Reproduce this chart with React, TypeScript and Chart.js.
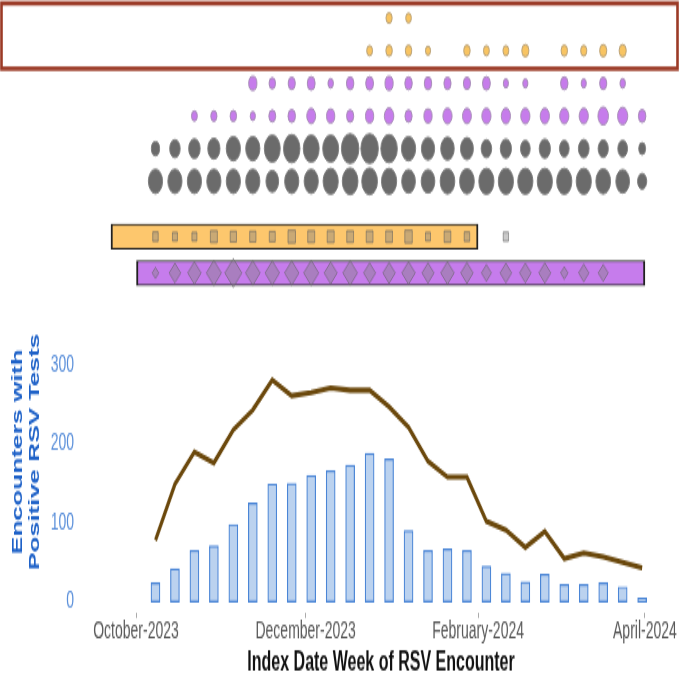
import React, { useEffect, useRef } from 'react';
import { Chart, registerables } from 'chart.js';

Chart.register(...registerables);

const FONT = "'Liberation Sans', Arial, Helvetica, sans-serif";

// ---- data ----
const weekStarts = [
  '2023-10-08', '2023-10-15', '2023-10-22', '2023-10-29', '2023-11-05', '2023-11-12',
  '2023-11-19', '2023-11-26', '2023-12-03', '2023-12-10', '2023-12-17', '2023-12-24',
  '2023-12-31', '2024-01-07', '2024-01-14', '2024-01-21', '2024-01-28', '2024-02-04',
  '2024-02-11', '2024-02-18', '2024-02-25', '2024-03-03', '2024-03-10', '2024-03-17',
  '2024-03-24', '2024-03-31',
];
const positiveTests = [24, 42, 65, 71, 98, 125, 149, 150, 160, 166, 173, 188, 181, 90, 65, 67, 65, 45, 36, 25, 35, 22, 22, 24, 19, 5];
const lineSeries = [78, 149, 190, 176, 218, 243, 281, 261, 265, 271, 268, 268, 247, 221, 178, 158, 158, 102, 91, 69, 89, 55, 62, 57, 50, 43];

// dot-row magnitudes (one per week, null = no dot)
const N = null;
const rowYellowTop = [N, N, N, N, N, N, N, N, N, N, N, N, 7, 6.5, N, N, N, N, N, N, N, N, N, N, N, N];
const rowYellow = [N, N, N, N, N, N, N, N, N, N, N, 6.7, 7.3, 7.3, 6, N, 7.3, 6.7, 6.7, 8, N, 7.3, 7, 8, 8, N];
const rowPurpleTop = [N, N, N, N, N, 9, 7.3, 8, 8.7, 6.3, 8.3, 8.7, 9, 8.3, 8.3, 8, 8, 8.7, 6, 6, N, 8.3, 6, 8, 6.3, N];
const rowPurple = [N, N, 6.7, 7, 7.3, 6, 7.7, 8.3, 9.7, 9, 8, 9, 10.3, 8, 9, 10, 9.7, 10, 10, 10, 10, 10, 10, 11.3, 11, 8.3];
const rowGrayTop = [9, 11.3, 12.3, 13, 15, 15, 16.7, 17.3, 16.7, 16.7, 18.3, 18.3, 17.3, 15, 14, 14.3, 13.7, 11.3, 12, 10.5, 12, 10.5, 11.5, 11, 10.5, 7.7];
const rowGray = [15, 15, 15, 15, 15, 15, 13.5, 15, 15, 16, 16.5, 16.5, 16, 14.5, 14.5, 15.5, 15.5, 16, 16, 16, 16, 16, 16, 15.5, 14.5, 10];
const yellowSquares = [5.5, 5, 5, 7, 6.3, 6.3, 6, 7.5, 7, 7, 6.8, 6.8, 6.8, 7.5, 5, 6.7, 5.5, N, 5.3, N, N, N, N, N, N, N];
const purpleDiamonds = [6.6, 11.6, 13.4, 15, 17, 14.6, 14.4, 14.4, 15, 13, 14.6, 12, 12.4, 13.4, 12, 13.4, 12.4, 10, 11.6, 11.6, 12, 7.4, 10.4, 10, N, N];
const yellowSpan = ['2023-09-22', '2024-02-01'];
const purpleSpan = ['2023-10-01', '2024-04-01'];

const xTickDates = ['2023-10-01', '2023-12-01', '2024-02-01', '2024-04-01'];
const xTickLabels = ['October-2023', 'December-2023', 'February-2024', 'April-2024'];
const yTicks = [0, 100, 200, 300];
const yTitleLines = ['Encounters with', 'Positive RSV Tests'];
const xTitle = 'Index Date Week of RSV Encounter';

// ---- helpers ----
const ORIGIN = Date.parse('2023-10-01T00:00:00Z');
const dayOf = (s: string) => (Date.parse(s + 'T00:00:00Z') - ORIGIN) / 86400000;
const weekDays = weekStarts.map(dayOf);

function markerRow(values: (number | null)[], axis: string, level: number, style: string, fill: string, border: string, toRadius: (v: number) => number) {
  const data: { x: number; y: number }[] = [];
  const radii: number[] = [];
  values.forEach((v, i) => {
    if (v != null) {
      data.push({ x: weekDays[i], y: level });
      radii.push(toRadius(v));
    }
  });
  return {
    type: 'scatter' as const,
    data,
    xAxisID: 'x',
    yAxisID: axis,
    pointStyle: style,
    pointRadius: radii,
    pointHoverRadius: radii,
    backgroundColor: fill,
    borderColor: border,
    borderWidth: 1,
    order: 0,
    clip: false as const,
  };
}

const circleR = (v: number) => v / 2 - 0.4;
const squareR = (v: number) => v / Math.SQRT2;
const diamondR = (v: number) => v / 2;

const overlayPlugin = {
  id: 'overlay',
  afterDraw(chart: any) {
    const { ctx } = chart;
    const rows = chart.scales.rows;
    const ys = chart.scales.y;
    // frame around the two top rows
    const top = rows.getPixelForValue(-0.45);
    const bottom = rows.getPixelForValue(1.55);
    ctx.save();
    ctx.strokeStyle = '#9B3A26';
    ctx.lineWidth = 2.6;
    ctx.strokeRect(1.5, top, chart.width - 3, bottom - top);
    ctx.restore();
    // y-axis title
    ctx.save();
    ctx.translate(ys.left + 18, ys.getPixelForValue(190));
    ctx.rotate(-Math.PI / 2);
    ctx.font = `bold 15.5px ${FONT}`;
    ctx.fillStyle = '#1F62C8';
    ctx.textAlign = 'center';
    ctx.textBaseline = 'middle';
    yTitleLines.forEach((t, i) => ctx.fillText(t, 0, i * 17));
    ctx.restore();
  },
};

export default function App() {
  const ref = useRef<HTMLCanvasElement | null>(null);

  useEffect(() => {
    if (!ref.current) return;
    const chart = new Chart(ref.current, {
      type: 'bar',
      data: {
        datasets: [
          markerRow(rowYellowTop, 'rows', 0, 'circle', '#F8C462', '#B9A27A', circleR),
          markerRow(rowYellow, 'rows', 1, 'circle', '#F8C462', '#B9A27A', circleR),
          markerRow(rowPurpleTop, 'rows', 2, 'circle', '#C67CEB', '#A68DB6', circleR),
          markerRow(rowPurple, 'rows', 3, 'circle', '#C67CEB', '#A68DB6', circleR),
          markerRow(rowGrayTop, 'rows', 4, 'circle', '#6B6B6B', '#7D7D7D', circleR),
          markerRow(rowGray, 'rows', 5, 'circle', '#6B6B6B', '#7D7D7D', circleR),
          markerRow(yellowSquares, 'bands', 0, 'rect', 'rgba(128,128,128,0.42)', 'rgba(95,95,95,0.55)', squareR),
          markerRow(purpleDiamonds, 'bands', 1, 'rectRot', 'rgba(128,128,128,0.42)', 'rgba(95,95,95,0.55)', diamondR),
          {
            type: 'bar',
            indexAxis: 'y',
            xAxisID: 'x',
            yAxisID: 'bands',
            data: [{ x: [dayOf(yellowSpan[0]), dayOf(yellowSpan[1])], y: 0 }],
            backgroundColor: '#FDC76D',
            borderColor: '#222',
            borderWidth: { top: 1, bottom: 1, left: 2, right: 2 },
            borderSkipped: false,
            barThickness: 14.6,
            grouped: false,
            order: 5,
          } as any,
          {
            type: 'bar',
            indexAxis: 'y',
            xAxisID: 'x',
            yAxisID: 'bands',
            data: [{ x: [dayOf(purpleSpan[0]), dayOf(purpleSpan[1])], y: 1 }],
            backgroundColor: '#C67CEC',
            borderColor: '#222',
            borderWidth: { top: 1, bottom: 1, left: 2, right: 2 },
            borderSkipped: false,
            barThickness: 14.6,
            grouped: false,
            order: 5,
          } as any,
          {
            type: 'line',
            xAxisID: 'x',
            yAxisID: 'y',
            data: weekDays.map((d, i) => ({ x: d, y: lineSeries[i] })),
            borderColor: '#6B480C',
            borderWidth: 3.1,
            pointRadius: 0,
            tension: 0,
            fill: false,
            order: 1,
          } as any,
          {
            type: 'bar',
            xAxisID: 'x',
            yAxisID: 'y',
            data: weekDays.map((d, i) => ({ x: d, y: positiveTests[i] })),
            backgroundColor: '#BBD2EF',
            borderColor: '#4A85D6',
            borderWidth: 1.2,
            borderSkipped: false,
            barThickness: 9,
            grouped: false,
            order: 2,
          } as any,
        ],
      },
      options: {
        responsive: false,
        animation: false,
        devicePixelRatio: 1,
        layout: { padding: 0, autoPadding: false },
        events: [],
        plugins: { legend: { display: false }, tooltip: { enabled: false } },
        scales: {
          x: {
            type: 'linear',
            axis: 'x',
            position: 'bottom',
            min: -19.06,
            max: 195.25,
            offset: false,
            grid: { display: true, drawOnChartArea: false, drawTicks: true, tickLength: 3, color: '#aaaaaa', lineWidth: 1, offset: false },
            border: { display: false },
            ticks: {
              autoSkip: false,
              maxRotation: 0,
              padding: 0,
              color: '#595959',
              font: { family: FONT, size: 14 },
              callback: (v: any) => {
                const idx = xTickDates.map(dayOf).indexOf(Number(v));
                return idx >= 0 ? xTickLabels[idx] : '';
              },
            },
            afterBuildTicks: (s: any) => {
              s.ticks = xTickDates.map((d) => ({ value: dayOf(d) }));
            },
            afterFit: (s: any) => {
              s.height = 38.9;
              s.paddingLeft = 0;
              s.paddingRight = 0;
            },
            title: {
              display: true,
              text: xTitle,
              color: '#111',
              font: { family: FONT, size: 16, weight: 'bold' },
              padding: { top: 0, bottom: 0 },
            },
          } as any,
          y: {
            type: 'linear',
            axis: 'y',
            position: 'left',
            min: -14,
            max: 761.9,
            offset: false,
            grid: { display: false, drawTicks: false },
            border: { display: false },
            ticks: {
              padding: 9,
              color: '#5A8FDA',
              font: { family: FONT, size: 14 },
            },
            afterBuildTicks: (s: any) => {
              s.ticks = yTicks.map((v) => ({ value: v }));
            },
            afterFit: (s: any) => {
              s.width = 83;
              s.paddingTop = 0;
              s.paddingBottom = 0;
            },
          } as any,
          rows: {
            type: 'linear',
            axis: 'y',
            position: 'left',
            display: false,
            reverse: true,
            min: -0.551,
            max: 18.217,
            offset: false,
            ticks: { display: false },
            afterFit: (s: any) => { s.width = 0; s.paddingTop = 0; s.paddingBottom = 0; },
          } as any,
          bands: {
            type: 'linear',
            axis: 'y',
            position: 'left',
            display: false,
            reverse: true,
            min: -6.514,
            max: 10.36,
            offset: false,
            ticks: { display: false },
            afterFit: (s: any) => { s.width = 0; s.paddingTop = 0; s.paddingBottom = 0; },
          } as any,
        },
      } as any,
      plugins: [overlayPlugin],
    });
    return () => chart.destroy();
  }, []);

  return (
    <div style={{ position: 'absolute', left: 0, top: 0, width: 679, height: 679, background: '#fff' }}>
      <canvas ref={ref} width={679} height={400} style={{ width: '679px', height: '679px', display: 'block' }} />
    </div>
  );
}
